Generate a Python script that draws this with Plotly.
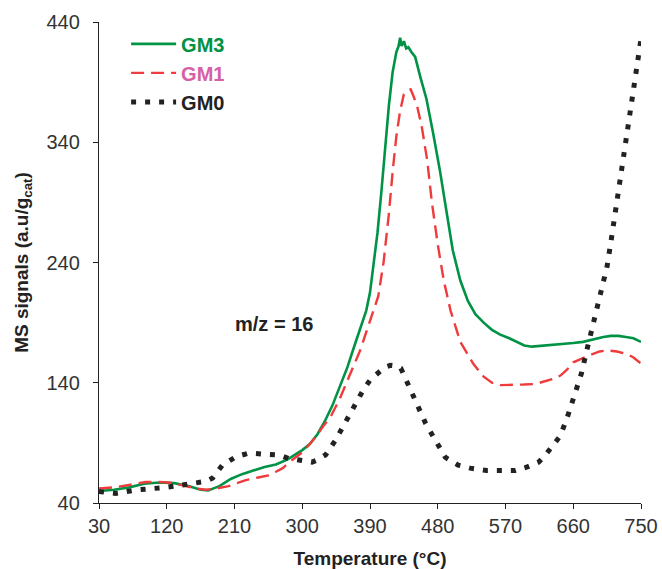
import plotly.graph_objects as go

# ---- data ----
gm3_t = [30, 50, 70, 90, 110, 130, 150, 165, 175, 190, 205, 220, 235, 250, 265, 280, 290, 300,
         310, 320, 330, 340, 350, 360, 370, 380, 385, 390, 395, 400, 405, 410, 415, 420, 425, 428, 430,
         432, 435, 438, 441, 445, 450, 457, 465, 474, 483, 492, 500, 510, 520, 530, 541, 552, 563,
         575, 585, 595, 605, 615, 630, 645, 660, 673, 685, 700, 710, 720, 730, 740, 750]
gm3_v = [50, 51, 53, 56, 57, 56.5, 54, 51, 50.5, 54, 60, 64, 67, 70, 72, 76, 80, 84,
         89, 97, 108, 121, 137, 153, 172, 190, 200, 215, 238, 265, 298, 335, 370, 398, 415, 420, 427,
         420, 424, 418, 419, 415, 411, 394, 376, 347, 316, 281, 250, 225, 208, 197, 190, 184, 180,
         177, 174, 171, 170, 170.5, 171, 172, 173, 174, 176, 178, 179, 179, 178, 177, 174]

gm1_t = [30, 50, 70, 92, 110, 123, 135, 149, 160, 172, 185, 202, 215, 225, 240, 255, 265, 274,
         285, 300, 310, 318, 328, 338, 350, 360, 370, 377, 385, 391, 401, 408, 415, 420, 425, 430, 435,
         440, 444, 448, 453, 459, 466, 472, 480, 488, 497, 510, 520, 527, 541, 552, 563, 580, 594,
         610, 620, 632, 643, 652, 660, 670, 682, 695, 705, 718, 731, 740, 750]
gm1_v = [52, 53, 55, 57.5, 57.5, 57, 55.5, 53.5, 52, 51, 52, 54, 57, 59, 61, 63, 66, 69,
         75, 82, 89, 95, 104, 112, 127, 142, 157, 167, 182, 193, 212, 240, 280, 315, 345, 366, 380,
         383, 384, 378, 369, 352, 325, 291, 255, 225, 200, 174, 163, 156, 145, 140, 138, 138, 138.5,
         139, 141, 143, 146, 151, 157, 160, 163, 166, 167, 166, 164, 161, 156]

gm0_t = [30, 52, 79, 96, 119, 141, 159, 172, 181, 194, 212, 229, 247, 269, 282, 302, 313, 321,
         331, 344, 356, 371, 381, 391, 401, 410, 417, 424, 431, 441, 453, 464, 477, 490, 507, 523,
         545, 563, 583, 599, 614, 622, 630, 643, 653, 663, 671, 678, 685, 692, 700, 705, 710, 715,
         720, 725, 730, 735, 738, 742, 747, 750]
gm0_v = [49.5, 48, 50.8, 51.6, 53, 55, 56.6, 58, 60.7, 71.5, 78.4, 81.5, 80.7, 80, 77, 75.7, 74, 76,
         80, 92, 106, 123, 134, 143, 149, 153, 154.5, 154, 152, 138, 123, 106, 92, 78, 71.5, 69,
         67, 66.8, 67, 70, 74, 79, 85, 96, 113, 131, 148, 167, 185, 203, 220, 237, 257, 278,
         298, 318, 337, 356, 370, 391, 412, 426]

x_ticks = [30, 120, 210, 300, 390, 480, 570, 660, 750]
y_ticks = [40, 140, 240, 340, 440]

FONT = "Liberation Sans, Arial, sans-serif"
GREEN = "#009245"
RED = "#ef3b3b"
PINK = "#d65fa6"
BLACK = "#222222"

fig = go.Figure()
fig.add_trace(go.Scatter(x=gm3_t, y=gm3_v, mode="lines",
                         name="<b><span style='color:%s'>GM3</span></b>" % GREEN,
                         line=dict(color=GREEN, width=2.6)))
fig.add_trace(go.Scatter(x=gm1_t, y=gm1_v, mode="lines",
                         name="<b><span style='color:%s'>GM1</span></b>" % PINK,
                         line=dict(color=RED, width=2.4, dash="13px,7px")))
fig.add_trace(go.Scatter(x=gm0_t, y=gm0_v, mode="lines",
                         name="<b><span style='color:%s'>GM0</span></b>" % BLACK,
                         line=dict(color=BLACK, width=5, dash="5px,9px")))

fig.add_annotation(x=263, y=189, text="<b>m/z = 16</b>", showarrow=False,
                   font=dict(family=FONT, size=20, color=BLACK))

fig.update_layout(
    width=662, height=569,
    margin=dict(l=99, r=21, t=22, b=66, autoexpand=False),
    paper_bgcolor="white", plot_bgcolor="white",
    font=dict(family=FONT, size=20, color="#333"),
    showlegend=True,
    legend=dict(x=0.05, y=0.995, xanchor="left", yanchor="top",
                bgcolor="rgba(0,0,0,0)", font=dict(family=FONT, size=20),
                itemwidth=45, tracegroupgap=4),
    xaxis=dict(range=[30, 750], tickvals=x_ticks, ticks="outside", ticklen=5,
               tickcolor=BLACK, showline=True, linecolor=BLACK, linewidth=1.3,
               showgrid=False, zeroline=False, automargin=False,
               tickfont=dict(family=FONT, size=20, color="#333"),
               title=dict(text="<b>Temperature (°C)</b>", standoff=16,
                          font=dict(family=FONT, size=19, color=BLACK))),
    yaxis=dict(range=[40, 440], tickvals=y_ticks, ticks="outside", ticklen=5,
               tickcolor=BLACK, showline=True, linecolor=BLACK, linewidth=1.3,
               showgrid=False, zeroline=False, ticklabelstandoff=9, automargin=False,
               tickfont=dict(family=FONT, size=20, color="#333"),
               title=dict(text="<b>MS signals (a.u/g<sub>cat</sub>)</b>", standoff=12,
                          font=dict(family=FONT, size=19, color=BLACK))),
)

fig.write_html("out.html")
